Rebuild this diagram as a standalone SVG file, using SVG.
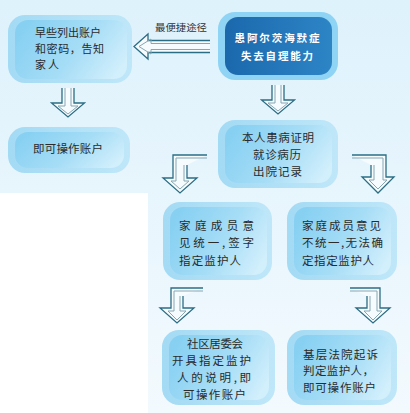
<svg xmlns="http://www.w3.org/2000/svg" width="410" height="413" viewBox="0 0 410 413">
<defs>
<linearGradient id="bg" x1="0" y1="0" x2="0" y2="1">
<stop offset="0" stop-color="#def2fc"/>
<stop offset="0.6" stop-color="#eaf6fd"/>
<stop offset="1" stop-color="#f3fafe"/>
</linearGradient>
<linearGradient id="outerG" x1="0" y1="0" x2="1" y2="0">
<stop offset="0" stop-color="#a3daf4"/>
<stop offset="1" stop-color="#bfe7f9"/>
</linearGradient>
<linearGradient id="innerG" x1="0" y1="0.3" x2="1" y2="0.7">
<stop offset="0" stop-color="#87d0f2"/>
<stop offset="0.55" stop-color="#a6ddf6"/>
<stop offset="1" stop-color="#d2effc"/>
</linearGradient>
<linearGradient id="darkG" x1="0" y1="0" x2="1" y2="0">
<stop offset="0" stop-color="#1b68ad"/>
<stop offset="1" stop-color="#2d85c6"/>
</linearGradient>
<g id="arrowDown">
<path class="ao" d="M-6,0 V15 H-16.5 L0,29 L16.5,15 H6 V0"/>
<path class="ai" d="M-3,0 V18 H-10 L0,26 L10,18 H3 V0"/>
</g>
</defs>
<style>
.ao{fill:#f6fbfe;stroke:#2b6d84;stroke-width:1.3;stroke-linejoin:miter}
.ai{fill:none;stroke:#86a7b2;stroke-width:1}
.outer{fill:url(#outerG)}
.inner{fill:url(#innerG)}
.t{font-family:"Noto Sans CJK SC","Noto Sans",sans-serif;font-size:11.5px;fill:#2b2b2b}
.t1{font-size:11px}
.tw{font-family:"Noto Sans CJK SC","Noto Sans",sans-serif;font-size:10.5px;font-weight:bold;fill:#ffffff}
.ts{font-family:"Noto Sans CJK SC","Noto Sans",sans-serif;font-size:9.5px;fill:#333333}
</style>
<rect x="0" y="0" width="410" height="413" fill="url(#bg)"/>
<rect x="0" y="193" width="148" height="220" fill="#ffffff"/>

<g id="connectors">
<g id="c-n2-n1">
<path class="ao" d="M210,40.5 H148 V34 L134,46.5 L148,59 V52.5 H210"/>
<path class="ai" d="M210,43.5 H151 V39 L139,46.5 L151,54 V49.5 H210"/>
<text class="ts" x="155" y="31" textLength="52" lengthAdjust="spacingAndGlyphs">最便捷途径</text>
</g>
<use href="#arrowDown" x="68" y="88"/>
<use href="#arrowDown" x="278" y="85"/>
<g id="c-n4-n5">
<path class="ao" d="M207,155 H173 V178 H163 L180,193 L197,178 H187 V165"/>
<path class="ai" d="M207,158 H176 V181 H171 L180,189 L189,181 H184 V165"/>
</g>
<g id="c-n4-n6">
<path class="ao" d="M352,155 H386 V177 H394 L378,193 L362,177 H371 V165"/>
<path class="ai" d="M352,158 H383 V180 H387 L378,189 L369,180 H374 V165"/>
</g>
<g id="c-n5-n7">
<path class="ao" d="M203,288 H171 V308 H160 L177,323 L194,308 H183 V296"/>
<path class="ai" d="M203,291 H174 V311 H168 L177,320 L186,311 H180 V296"/>
</g>
<g id="c-n6-n8">
<path class="ao" d="M350,288 H380 V308 H390 L373,323 L356,308 H367 V296"/>
<path class="ai" d="M350,291 H377 V311 H382 L373,320 L364,311 H370 V296"/>
</g>
</g>

<g id="n1">
<rect class="outer" x="8" y="15" width="124" height="68" rx="17"/>
<rect class="inner" x="15" y="20" width="112" height="59" rx="13"/>
<text class="t t1" x="35" y="37" textLength="66" lengthAdjust="spacing">早些列出账户</text>
<text class="t t1" x="35" y="53" textLength="69" lengthAdjust="spacing">和密码，告知</text>
<text class="t t1" x="35" y="69" textLength="24" lengthAdjust="spacing">家人</text>
</g>

<g id="n2">
<rect x="218" y="12" width="120" height="68" rx="17" fill="#8fd4f4"/>
<rect x="225" y="17" width="107" height="58" rx="13" fill="url(#darkG)"/>
<text class="tw" x="277" y="42" text-anchor="middle" textLength="85" lengthAdjust="spacing">患阿尔茨海默症</text>
<text class="tw" x="277" y="60" text-anchor="middle" textLength="72" lengthAdjust="spacing">失去自理能力</text>
</g>

<g id="n3">
<rect class="outer" x="8" y="127" width="122" height="46" rx="17"/>
<rect class="inner" x="15" y="132" width="109" height="36" rx="13"/>
<text class="t" x="33" y="153" textLength="70" lengthAdjust="spacing">即可操作账户</text>
</g>

<g id="n4">
<rect class="outer" x="218" y="120" width="120" height="68" rx="17"/>
<rect class="inner" x="225" y="125" width="107" height="58" rx="13"/>
<text class="t" x="242" y="142" textLength="72" lengthAdjust="spacing">本人患病证明</text>
<text class="t" x="253" y="159" textLength="48" lengthAdjust="spacing">就诊病历</text>
<text class="t" x="253" y="175.5" textLength="49" lengthAdjust="spacing">出院记录</text>
</g>

<g id="n5">
<rect class="outer" x="163" y="202" width="109" height="78" rx="17"/>
<rect class="inner" x="170" y="207" width="97" height="68" rx="13"/>
<text class="t" x="179" y="229.5" textLength="75" lengthAdjust="spacing">家庭成员意</text>
<text class="t" x="179" y="246.5" textLength="75" lengthAdjust="spacing">见统一,签字</text>
<text class="t" x="179" y="264.5" textLength="62" lengthAdjust="spacing">指定监护人</text>
</g>

<g id="n6">
<rect class="outer" x="287" y="202" width="110" height="78" rx="17"/>
<rect class="inner" x="294" y="207" width="97" height="68" rx="13"/>
<text class="t" x="302" y="229.5" textLength="79" lengthAdjust="spacing">家庭成员意见</text>
<text class="t" x="302" y="246.5" textLength="81" lengthAdjust="spacing">不统一,无法确</text>
<text class="t" x="302" y="264.5" textLength="72" lengthAdjust="spacing">定指定监护人</text>
</g>

<g id="n7">
<rect class="outer" x="162" y="330" width="113" height="75" rx="17"/>
<rect class="inner" x="169" y="335" width="100" height="65" rx="13"/>
<text class="t" x="187" y="347.5" textLength="56" lengthAdjust="spacing">社区居委会</text>
<text class="t" x="172" y="364.5" textLength="79" lengthAdjust="spacing">开具指定监护</text>
<text class="t" x="177" y="381.5" textLength="74" lengthAdjust="spacing">人的说明,即</text>
<text class="t" x="183" y="398.5" textLength="63" lengthAdjust="spacing">可操作账户</text>
</g>

<g id="n8">
<rect class="outer" x="287" y="330" width="110" height="75" rx="17"/>
<rect class="inner" x="294" y="335" width="97" height="65" rx="13"/>
<text class="t" x="303" y="358.5" textLength="75" lengthAdjust="spacing">基层法院起诉</text>
<text class="t" x="303" y="374.5" textLength="71" lengthAdjust="spacing">判定监护人，</text>
<text class="t" x="303" y="391.5" textLength="73" lengthAdjust="spacing">即可操作账户</text>
</g>
</svg>
